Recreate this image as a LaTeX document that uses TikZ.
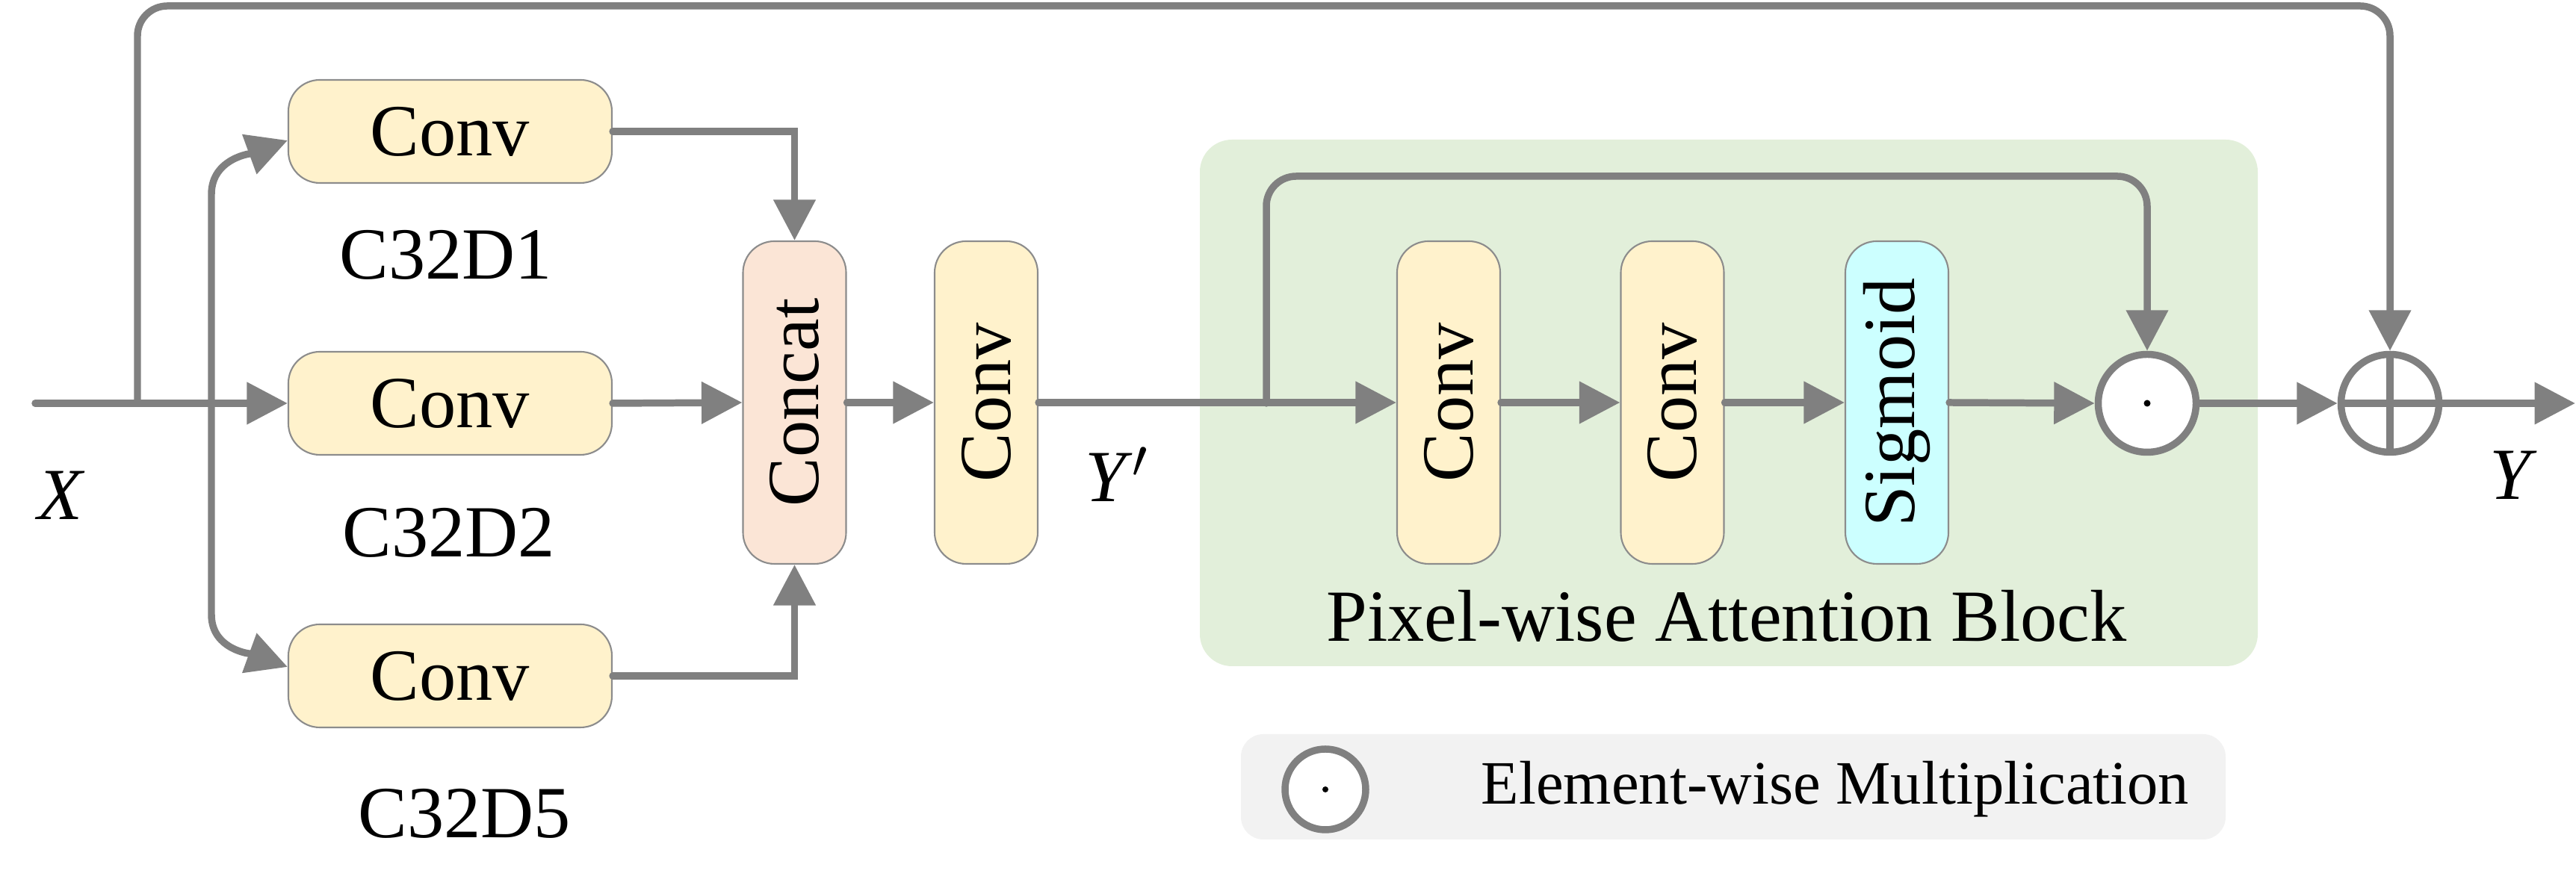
\documentclass[tikz,border=0pt]{standalone}
\usepackage{fontspec}
\setmainfont{Liberation Serif}
\usetikzlibrary{arrows.meta}

\definecolor{linegray}{RGB}{128,128,128}
\definecolor{boxline}{RGB}{140,140,140}
\definecolor{convfill}{RGB}{255,242,204}
\definecolor{catfill}{RGB}{251,229,214}
\definecolor{sigfill}{RGB}{204,255,255}
\definecolor{attfill}{RGB}{226,239,218}
\definecolor{legfill}{RGB}{242,242,242}

\begin{document}
\begin{tikzpicture}[
  flow/.style={draw=linegray, line width=2.7pt, line cap=round, -{Triangle[length=15.5pt,width=15.5pt]}},
  link/.style={draw=linegray, line width=2.7pt},
  hbox/.style={draw=boxline, line width=0.6pt, fill=convfill, rounded corners=0.42cm, minimum width=4.33cm, minimum height=1.38cm, inner sep=0pt, font=\fontsize{28}{34}\selectfont},
  vbox/.style={draw=boxline, line width=0.6pt, fill=convfill, rounded corners=0.42cm, minimum width=1.38cm, minimum height=4.32cm, inner sep=0pt, font=\fontsize{28}{34}\selectfont},
  opcircle/.style={circle, draw=linegray, line width=2.7pt, fill=white, minimum size=1.31cm, inner sep=0pt},
  lbl/.style={inner sep=0pt, font=\fontsize{28}{34}\selectfont}
]

\useasboundingbox (0,0) rectangle (34.48,11.93);

% Backgrounds
\fill[attfill, rounded corners=0.43cm] (16.06,3.01) rectangle (30.22,10.06);
\fill[legfill, rounded corners=0.3cm] (16.61,0.69) rectangle (29.79,2.10);

% Dilated conv branches
\node[hbox] (c1) at (6.025,10.17) {Conv};
\node[hbox] (c2) at (6.025,6.53) {Conv};
\node[hbox] (c3) at (6.025,2.88) {Conv};

\node[lbl] (d1) at (5.97,8.52) {C32D1};
\node[lbl] (d2) at (6.01,4.80) {C32D2};
\node[lbl] (d5) at (6.22,1.04) {C32D5};

% Concat and fusion conv
\node[vbox, fill=catfill] (cc) at (10.635,6.54) {\rotatebox{90}{Concat}};
\node[vbox] (c4) at (13.20,6.54) {\rotatebox{90}{Conv}};

% Pixel-wise attention block
\node[vbox] (ca) at (19.39,6.54) {\rotatebox{90}{Conv}};
\node[vbox] (cb) at (22.385,6.54) {\rotatebox{90}{Conv}};
\node[vbox, fill=sigfill] (sg) at (25.39,6.54) {\rotatebox{90}{Sigmoid}};
\node[lbl, anchor=base] (pab) at (23.11,3.34) {Pixel-wise Attention Block};

% Operators
\node[opcircle] (od) at (28.74,6.53) {};
\fill (od) circle (0.045);
\node[opcircle] (op) at (31.99,6.53) {};
\draw[link] (op.north) -- (op.south) (op.west) -- (op.east);

% Signal labels
\node[lbl] (xl) at (0.82,5.30) {\textit{X}};
\node[lbl] (ypl) at (14.95,5.58) {\textit{Y}$'$};
\node[lbl] (yl) at (33.64,5.57) {\textit{Y}};

% Legend
\node[opcircle, minimum size=1.08cm] (lg) at (17.74,1.36) {};
\fill (lg) circle (0.04);
\node[lbl, font=\fontsize{23.5}{28}\selectfont, anchor=base west] (lgt) at (19.82,1.16) {Element-wise Multiplication};

% Points on the main line
\coordinate (in) at (0.47,6.53);
\coordinate (skip) at (1.84,6.53);
\coordinate (fork) at (2.83,6.53);
\coordinate (att) at (16.95,6.53);
\coordinate (out) at (34.47,6.53);

% Connectors
\draw[flow] (in) -- (c2.west);
\draw[flow, rounded corners=0.4cm] (skip) -- ++(0,5.32) -| (op.north);
\draw[flow] (fork) -- ++(0,2.8) to[out=90,in=200] ([yshift=-0.12cm]c1.west);
\draw[flow] (fork) -- ++(0,-2.83) to[out=-90,in=160] ([yshift=0.12cm]c3.west);
\draw[flow] (c1.east) -| (cc.north);
\draw[flow] (c2.east) -- (cc.west);
\draw[flow] (c3.east) -| (cc.south);
\draw[flow] (cc.east) -- (c4.west);
\draw[flow] (c4.east) -- (ca.west);
\draw[flow, rounded corners=0.4cm] (att) -- ++(0,3.04) -| (od.north);
\draw[flow] (ca.east) -- (cb.west);
\draw[flow] (cb.east) -- (sg.west);
\draw[flow] (sg.east) -- (od.west);
\draw[flow] (od.east) -- (op.west);
\draw[flow] (op.east) -- (out);

\end{tikzpicture}
\end{document}
